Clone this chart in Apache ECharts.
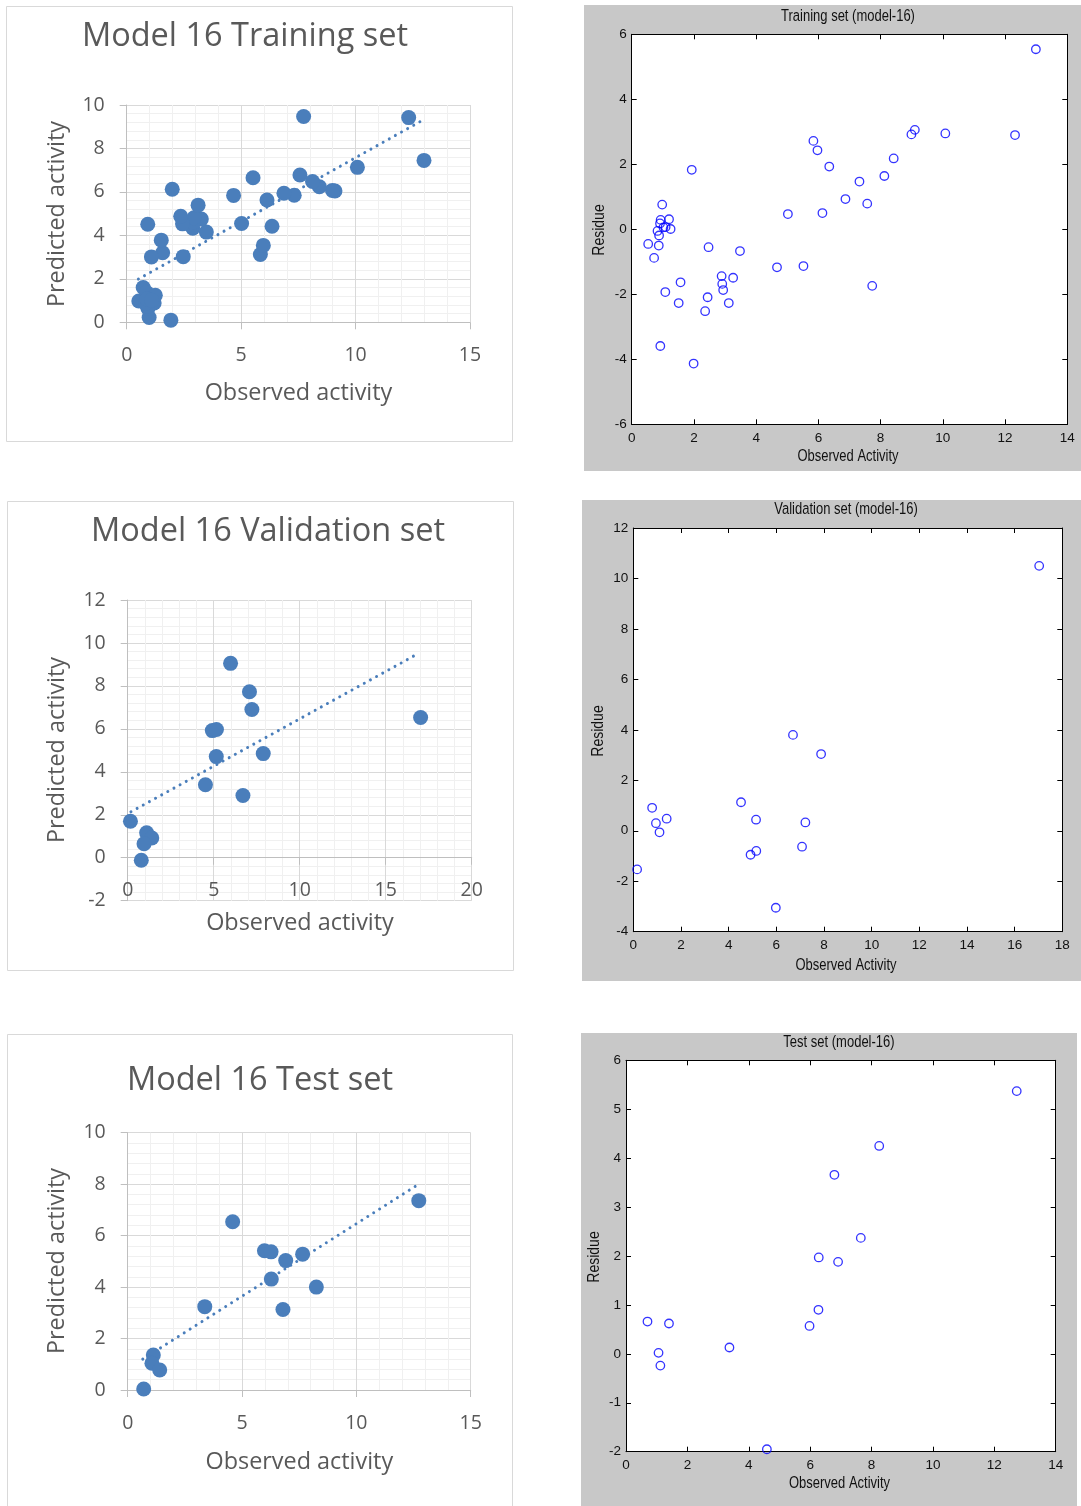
<!DOCTYPE html>
<html>
<head>
<meta charset="utf-8">
<script src="https://cdn.jsdelivr.net/npm/echarts@6/dist/echarts.min.js"></script>
<style>
  html, body { margin: 0; padding: 0; background: #ffffff; }
  #chart { width: 1081px; height: 1506px; }
</style>
</head>
<body>
<div id="chart"></div>
<script>
// ---- Model 16: training set ----
const trainObserved  = [12.99, 12.32, 10.08, 9.10, 8.99, 8.42, 8.12, 7.32, 7.57, 6.87, 7.73, 5.84, 5.97, 6.35, 6.13, 5.02, 5.52, 4.67, 3.48, 3.26, 2.89, 2.91, 2.94, 3.12, 2.47, 2.44, 2.36, 1.93, 1.99, 1.57, 1.51, 1.08, 0.92, 0.53, 0.72, 0.87, 0.98, 0.93, 1.20, 0.91, 1.02, 1.25, 0.83, 0.88, 1.09];
const trainPredicted = [7.45, 9.42, 7.13, 6.04, 6.07, 6.24, 6.48, 5.85, 6.78, 5.94, 9.47, 3.12, 3.54, 4.42, 5.63, 4.55, 6.65, 5.84, 4.15, 4.75, 4.33, 4.59, 4.81, 5.39, 3.02, 4.53, 4.88, 0.10, 6.12, 3.20, 3.78, 3.01, 4.51, 0.98, 1.60, 1.37, 0.22, 0.64, 0.89, 0.73, 0.96, 1.24, 0.88, 1.07, 1.02];
const trainResidue   = [5.54, 2.90, 2.95, 3.06, 2.92, 2.18, 1.64, 1.47, 0.79, 0.93, -1.74, 2.72, 2.43, 1.93, 0.50, 0.47, -1.13, -1.17, -0.67, -1.49, -1.44, -1.68, -1.87, -2.27, -0.55, -2.09, -2.52, 1.83, -4.13, -1.63, -2.27, -1.93, -3.59, -0.45, -0.88, -0.50, 0.76, 0.29, 0.31, 0.18, 0.06, 0.01, -0.05, -0.19, 0.07];
const trainTrendObserved  = [0.51, 13.03];
const trainTrendPredicted = [1.99, 9.36];

// ---- Model 16: validation set ----
const valObserved  = [5.98, 7.08, 7.22, 17.03, 4.92, 5.16, 5.15, 7.88, 4.52, 6.70, 0.16, 1.10, 1.40, 0.95, 0.79];
const valPredicted = [9.05, 7.73, 6.90, 6.53, 5.92, 5.97, 4.71, 4.85, 3.40, 2.90, 1.70, 1.16, 0.92, 0.65, -0.12];
const valResidue   = [-3.05, -0.63, 0.33, 10.50, -0.95, -0.80, 0.44, 3.04, 1.13, 3.80, -1.53, -0.06, 0.48, 0.30, 0.91];
const valTrendObserved  = [0.19, 16.67];
const valTrendPredicted = [2.14, 9.41];

// ---- Model 16: test set ----
const testObserved  = [12.73, 4.59, 5.98, 6.27, 6.91, 7.65, 6.28, 8.25, 6.79, 3.37, 1.12, 1.06, 1.40, 0.70];
const testPredicted = [7.36, 6.54, 5.41, 5.37, 5.03, 5.28, 4.31, 4.00, 3.13, 3.24, 1.36, 1.04, 0.78, 0.04];
const testResidue   = [5.37, -1.95, 0.57, 0.90, 1.88, 2.37, 1.97, 4.25, 3.66, 0.13, -0.24, 0.02, 0.62, 0.66];
const testTrendObserved  = [0.66, 12.78];
const testTrendPredicted = [1.20, 8.03];

// ---- panel texts ----
const panelTitles   = ['Model 16 Training set', 'Model 16 Validation set', 'Model 16 Test set'];
const residueTitles = ['Training set (model-16)', 'Validation set (model-16)', 'Test set (model-16)'];
const predAxisName  = 'Predicted activity';
const obsAxisName   = 'Observed activity';
const resAxisName   = 'Residue';
const resObsName    = 'Observed Activity';

const EXCEL_FONT = '"Open Sans", Lato, sans-serif';
const MAT_FONT = '"Liberation Sans", Arial, sans-serif';
const EXCEL_BLUE = '#4a7ebb';
const EXCEL_TEXT = '#595959';
const MAT_TEXT = '#111111';

const grid = [], xAxis = [], yAxis = [], series = [], graphic = [];

function pairs(a, b) { return a.map((v, i) => [v, b[i]]); }

// Spreadsheet-style scatter: soft grey major/minor grid, filled markers, dotted trend line.
// The horizontal axis sits at y = 0, so it is shifted up when the range goes below zero.
function excelPanel(box, xr, yr, obs, pred, trendX, trendY) {
  const gi = grid.length;
  grid.push({ left: box[0], top: box[1], width: box[2], height: box[3] });
  const xi = xAxis.length, yi = yAxis.length;
  const zeroShift = yr[0] < 0 ? -box[3] * (0 - yr[0]) / (yr[1] - yr[0]) : 0;
  const common = {
    type: 'value', gridIndex: gi,
    axisLine: { show: true, onZero: false, lineStyle: { color: '#bfbfbf', width: 1 } },
    axisTick: { show: true, length: 7, lineStyle: { color: '#bfbfbf', width: 1 } },
    splitLine: { show: true, lineStyle: { color: '#d9d9d9', width: 1 } },
    minorTick: { show: false, splitNumber: 5 },
    minorSplitLine: { show: true, lineStyle: { color: '#f0f0f0', width: 1 } }
  };
  xAxis.push(Object.assign({}, common, {
    min: xr[0], max: xr[1], interval: xr[2], offset: zeroShift,
    axisLabel: { margin: 23, color: EXCEL_TEXT, fontFamily: EXCEL_FONT, fontSize: 19.5 }
  }));
  yAxis.push(Object.assign({}, common, {
    min: yr[0], max: yr[1], interval: yr[2],
    axisLabel: { margin: 22, color: EXCEL_TEXT, fontFamily: EXCEL_FONT, fontSize: 19.5 }
  }));
  series.push({
    type: 'line', xAxisIndex: xi, yAxisIndex: yi, data: pairs(trendX, trendY),
    symbol: 'none', silent: true, z: 2,
    lineStyle: { color: EXCEL_BLUE, width: 3, type: [0.01, 7], cap: 'round' }
  });
  series.push({
    type: 'scatter', xAxisIndex: xi, yAxisIndex: yi, data: pairs(obs, pred),
    symbol: 'circle', symbolSize: 15, silent: true, z: 3,
    itemStyle: { color: EXCEL_BLUE, opacity: 1 }
  });
}

// Boxed residual plot: ticks inside on all four sides, open blue circles
function matlabPanel(box, xr, yr, obs, res) {
  const gi = grid.length;
  grid.push({ left: box[0], top: box[1], width: box[2], height: box[3], show: true, backgroundColor: '#ffffff', borderWidth: 0 });
  const xi = xAxis.length, yi = yAxis.length;
  const line = { show: true, onZero: false, lineStyle: { color: '#000000', width: 1 } };
  const tick = { show: true, inside: true, length: 5, lineStyle: { color: '#000000', width: 1 } };
  const label = { color: MAT_TEXT, fontFamily: MAT_FONT, fontSize: 13.5 };
  xAxis.push({ type: 'value', gridIndex: gi, position: 'bottom', min: xr[0], max: xr[1], interval: xr[2],
    axisLine: line, axisTick: tick, splitLine: { show: false }, axisLabel: Object.assign({ margin: 7 }, label) });
  xAxis.push({ type: 'value', gridIndex: gi, position: 'top', min: xr[0], max: xr[1], interval: xr[2],
    axisLine: line, axisTick: tick, splitLine: { show: false }, axisLabel: { show: false } });
  yAxis.push({ type: 'value', gridIndex: gi, position: 'left', min: yr[0], max: yr[1], interval: yr[2],
    axisLine: line, axisTick: tick, splitLine: { show: false }, axisLabel: Object.assign({ margin: 5 }, label) });
  yAxis.push({ type: 'value', gridIndex: gi, position: 'right', min: yr[0], max: yr[1], interval: yr[2],
    axisLine: line, axisTick: tick, splitLine: { show: false }, axisLabel: { show: false } });
  series.push({
    type: 'scatter', xAxisIndex: xi, yAxisIndex: yi, data: pairs(obs, res),
    symbol: 'circle', symbolSize: 8.5, silent: true, z: 3,
    itemStyle: { color: 'rgba(0,0,0,0)', borderColor: '#0000ff', borderWidth: 1.3 }
  });
}

function text(str, x, y, size, family, color, rotate, stretch) {
  graphic.push({
    type: 'text', x: x, y: y, rotation: rotate ? Math.PI / 2 : 0, scaleY: stretch || 1, z: 100, silent: true,
    style: { text: str, x: 0, y: 0, fontSize: size, fontFamily: family, fill: color, align: 'center', verticalAlign: 'middle' }
  });
}
function rect(x, y, w, h, fill, stroke) {
  graphic.push({
    type: 'rect', z: -100, silent: true,
    shape: { x: x, y: y, width: w, height: h },
    style: { fill: fill, stroke: stroke || null, lineWidth: 1 }
  });
}

// chart frames and figure backgrounds
rect(6.5, 6.5, 506, 435, '#ffffff', '#d9d9d9');
rect(7.5, 501.5, 506, 469, '#ffffff', '#d9d9d9');
rect(7.5, 1034.5, 505, 490, '#ffffff', '#d9d9d9');
rect(584, 5, 497, 466, '#c8c8c8');
rect(582, 500, 499, 481, '#c8c8c8');
rect(581, 1033, 496, 473, '#c8c8c8');

// left column
excelPanel([126.7, 105, 343.3, 217.3], [0, 15, 5], [0, 10, 2], trainObserved, trainPredicted, trainTrendObserved, trainTrendPredicted);
excelPanel([127.7, 600, 344, 300.7], [0, 20, 5], [-2, 12, 2], valObserved, valPredicted, valTrendObserved, valTrendPredicted);
excelPanel([127.7, 1132.7, 343, 257.3], [0, 15, 5], [0, 10, 2], testObserved, testPredicted, testTrendObserved, testTrendPredicted);

// right column
matlabPanel([631.7, 34.3, 435.6, 390], [0, 14, 2], [-6, 6, 2], trainObserved, trainResidue);
matlabPanel([633.3, 528, 429, 403.7], [0, 18, 2], [-4, 12, 2], valObserved, valResidue);
matlabPanel([626, 1060.3, 429.7, 391.4], [0, 14, 2], [-2, 6, 1], testObserved, testResidue);

// titles and axis names
text(panelTitles[0], 245, 37, 32.5, EXCEL_FONT, EXCEL_TEXT);
text(panelTitles[1], 268, 532, 32.5, EXCEL_FONT, EXCEL_TEXT);
text(panelTitles[2], 260, 1081, 32.5, EXCEL_FONT, EXCEL_TEXT);
text(predAxisName, 57, 214, 23.4, EXCEL_FONT, EXCEL_TEXT, true);
text(obsAxisName, 298.5, 393, 23.4, EXCEL_FONT, EXCEL_TEXT);
text(predAxisName, 57, 750, 23.4, EXCEL_FONT, EXCEL_TEXT, true);
text(obsAxisName, 300, 923, 23.4, EXCEL_FONT, EXCEL_TEXT);
text(predAxisName, 57, 1261, 23.4, EXCEL_FONT, EXCEL_TEXT, true);
text(obsAxisName, 299.3, 1462, 23.4, EXCEL_FONT, EXCEL_TEXT);

text(residueTitles[0], 848, 17, 13, MAT_FONT, MAT_TEXT, false, 1.22);
text(residueTitles[1], 846, 510, 13, MAT_FONT, MAT_TEXT, false, 1.22);
text(residueTitles[2], 839, 1043, 13, MAT_FONT, MAT_TEXT, false, 1.22);
text(resAxisName, 600, 230, 14, MAT_FONT, MAT_TEXT, true, 1.15);
text(resAxisName, 599, 731, 14, MAT_FONT, MAT_TEXT, true, 1.15);
text(resAxisName, 595, 1257, 14, MAT_FONT, MAT_TEXT, true, 1.15);
text(resObsName, 848, 457, 13, MAT_FONT, MAT_TEXT, false, 1.22);
text(resObsName, 846, 966, 13, MAT_FONT, MAT_TEXT, false, 1.22);
text(resObsName, 839.5, 1484, 13, MAT_FONT, MAT_TEXT, false, 1.22);

const chart = echarts.init(document.getElementById('chart'), null, { renderer: 'canvas' });
chart.setOption({
  animation: false,
  backgroundColor: '#ffffff',
  grid: grid,
  xAxis: xAxis,
  yAxis: yAxis,
  series: series,
  graphic: { elements: graphic }
});
</script>
</body>
</html>
